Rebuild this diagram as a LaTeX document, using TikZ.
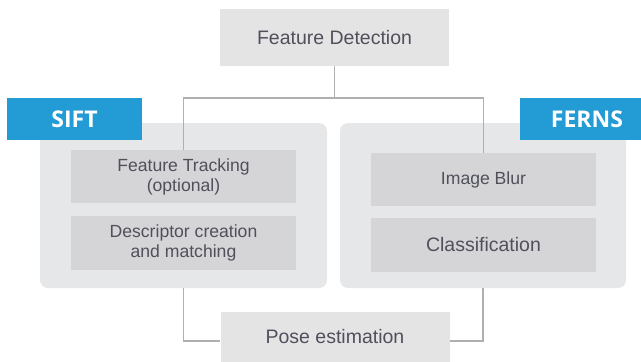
\documentclass[tikz,border=0pt]{standalone}
\usepackage{fontspec}
\setmainfont{Liberation Sans}
\newfontfamily\labfont{Open Sans}
\definecolor{outerg}{RGB}{230,231,232}
\definecolor{innerg}{RGB}{213,213,215}
\definecolor{topg}{RGB}{228,228,229}
\definecolor{lineg}{RGB}{175,175,178}
\definecolor{tagblue}{RGB}{35,155,212}
\definecolor{txt}{RGB}{80,80,92}
\begin{document}
\begin{tikzpicture}[x=1pt,y=-1pt,
  box/.style={inner sep=0pt,align=center,text=txt},
  outerbox/.style={box,fill=outerg,rounded corners=8pt},
  innerbox/.style={box,fill=innerg,minimum width=225pt,font=\fontsize{17.6}{20}\selectfont},
  endbox/.style={box,fill=topg,minimum width=229pt,font=\fontsize{19.5}{22}\selectfont},
  tagbox/.style={inner sep=0pt,fill=tagblue,text=white,font=\labfont\bfseries\fontsize{23}{26}\selectfont,minimum height=42pt},
  conn/.style={draw=lineg,line width=1.1pt}]
\useasboundingbox (0,0) rectangle (641,362);
% outer group boxes
\node[outerbox,minimum width=287pt,minimum height=165pt] (sift) at (183.5,205.5) {};
\node[outerbox,minimum width=286pt,minimum height=165pt] (ferns) at (483,205.5) {};
% top and bottom boxes
\node[endbox,minimum height=57pt] (fd) at (334.5,37.5) {Feature Detection};
\node[endbox,minimum height=50pt] (pose) at (335,337) {Pose estimation};
% inner boxes
\node[innerbox,minimum height=53pt] (ft) at (183.5,176.5) {Feature Tracking\\(optional)};
\node[innerbox,minimum height=54pt] (dc) at (183.5,243) {Descriptor creation\\and matching};
\node[innerbox,minimum height=53pt] (ib) at (483.5,179.5) {Image Blur};
\node[innerbox,minimum height=54pt,font=\fontsize{19.5}{22}\selectfont] (cl) at (483.5,245) {Classification};
% labels
\node[tagbox,minimum width=135pt] (siftlab) at (74.5,119) {SIFT};
\node[tagbox,minimum width=121pt,text width=121pt,align=center] (fernslab) at (580.5,119) {\hspace*{13pt}FERNS};
% connectors
\coordinate (jl) at (183.5,98);
\draw[conn] (fd.south) -- (fd.south |- jl);
\draw[conn] (ft.north) |- (fd.south |- jl) -| (ib.north);
\coordinate (pj) at (335,341);
\draw[conn] (sift.south) |- (pose.west |- pj);
\draw[conn] (ferns.south) |- (pose.east |- pj);
\end{tikzpicture}
\end{document}
